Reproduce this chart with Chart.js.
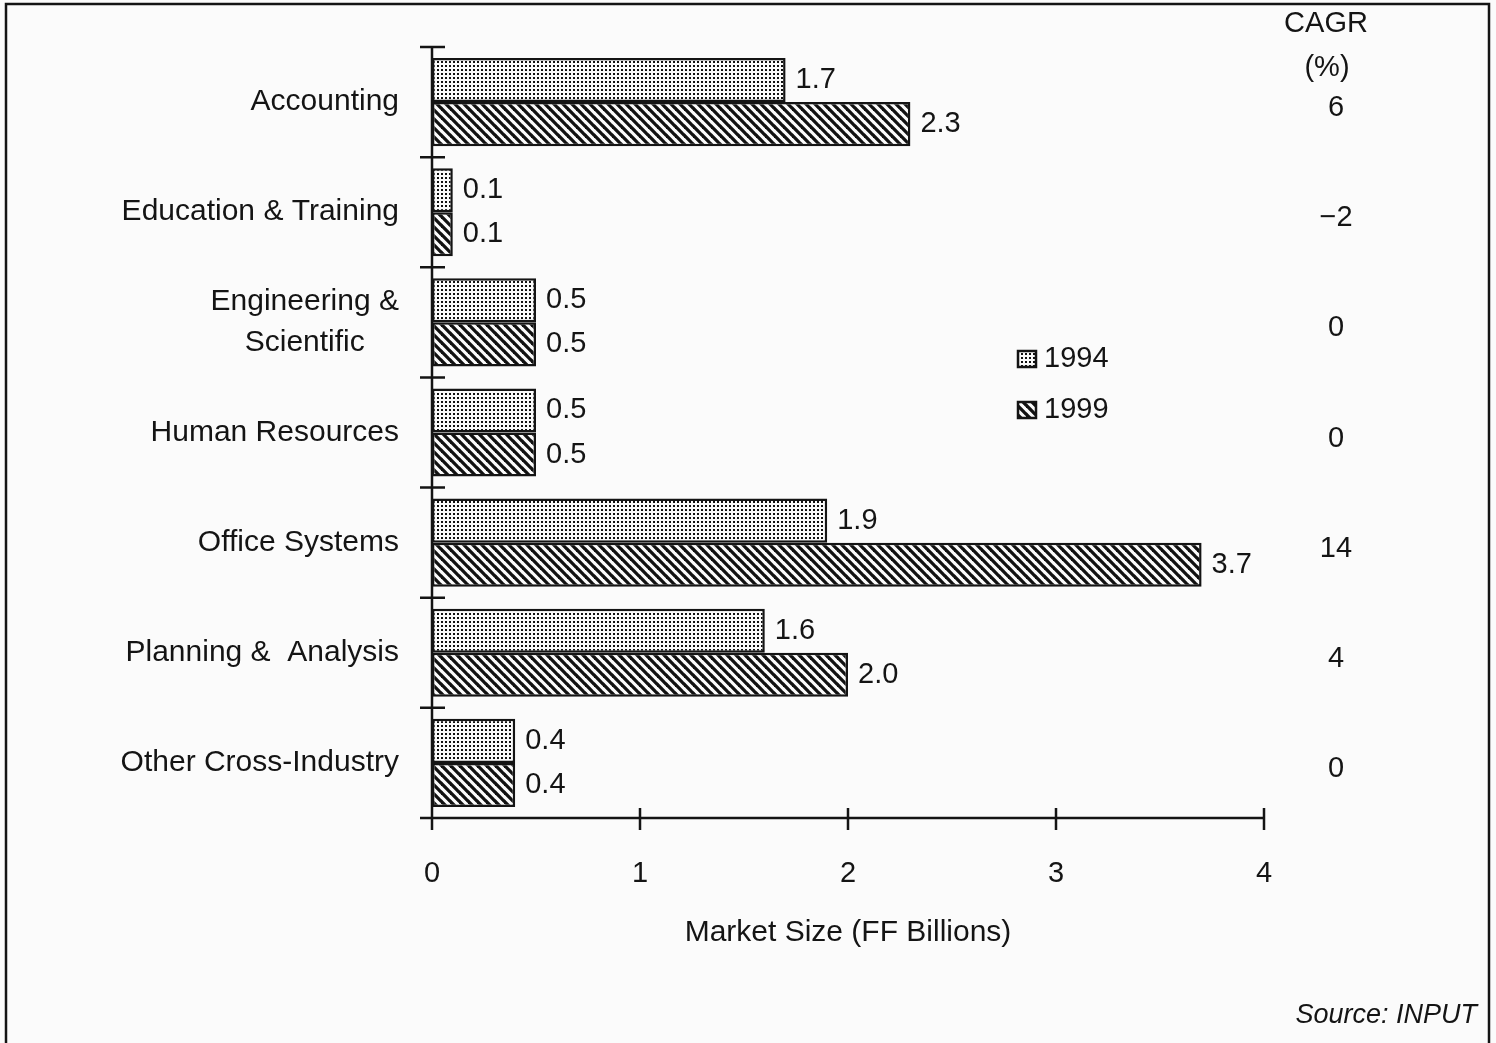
<!DOCTYPE html>
<html>
<head>
<meta charset="utf-8">
<script src="https://cdn.jsdelivr.net/npm/chart.js@4.4.1/dist/chart.umd.min.js"></script>
<style>
  html, body { margin: 0; padding: 0; background: #fbfbfb; }
  #wrap { width: 1496px; height: 1043px; }
</style>
</head>
<body>
<div id="wrap"><canvas id="marketChart" width="1496" height="1043"></canvas></div>
<script>
// ─── Data ──────────────────────────────────────────────────────
const categories = [
    ['Accounting'],
    ['Education & Training'],
    ['Engineering &', 'Scientific'],
    ['Human Resources'],
    ['Office Systems'],
    ['Planning &  Analysis'],
    ['Other Cross-Industry']
];
const values1994  = [1.7, 0.1, 0.5, 0.5, 1.9, 1.6, 0.4];
const values1999  = [2.3, 0.1, 0.5, 0.5, 3.7, 2.0, 0.4];
const cagr        = ['6', '\u22122', '0', '0', '14', '4', '0'];
const xTicks      = [0, 1, 2, 3, 4];
const seriesNames = ['1994', '1999'];

const FONT = '"Liberation Sans", Arial, Helvetica, sans-serif';
const INK  = '#141414';
const BG   = '#fbfbfb';

// ─── Fill patterns ─────────────────────────────────────────────
function dotPattern(ctx) {
    const c = document.createElement('canvas');
    c.width = 4; c.height = 4;
    const p = c.getContext('2d');
    p.fillStyle = BG;
    p.fillRect(0, 0, 4, 4);
    p.fillStyle = '#111';
    p.fillRect(1, 1, 2, 2);
    return ctx.createPattern(c, 'repeat');
}

function hatchPattern(ctx) {
    const s = 9;
    const c = document.createElement('canvas');
    c.width = s; c.height = s;
    const p = c.getContext('2d');
    p.fillStyle = BG;
    p.fillRect(0, 0, s, s);
    p.strokeStyle = '#111';
    p.lineWidth = 3.3;
    [-s, 0, s].forEach(dx => {
        p.beginPath();
        p.moveTo(dx - 1, -1);
        p.lineTo(dx + s + 1, s + 1);
        p.stroke();
    });
    return ctx.createPattern(c, 'repeat');
}

const canvas = document.getElementById('marketChart');
const ctx    = canvas.getContext('2d');
const fill94 = dotPattern(ctx);
const fill99 = hatchPattern(ctx);

// ─── Decorations: axes, labels, legend, CAGR column, frame ─────
const decorPlugin = {
    id: 'decor',
    beforeDraw(chart) {
        const c = chart.ctx;
        c.save();
        c.fillStyle = BG;
        c.fillRect(0, 0, chart.width, chart.height);
        c.restore();
    },
    afterDatasetsDraw(chart) {
        const c    = chart.ctx;
        const xs   = chart.scales.x;
        const ys   = chart.scales.y;
        const area = chart.chartArea;
        const x0   = xs.getPixelForValue(0);

        c.save();
        c.strokeStyle = INK;
        c.fillStyle   = INK;
        c.lineWidth   = 2.5;

        // y axis + category boundary ticks
        c.beginPath();
        c.moveTo(x0, area.top);
        c.lineTo(x0, area.bottom);
        for (let i = 0; i <= categories.length; i++) {
            const y = ys.getPixelForValue(i - 0.5);
            c.moveTo(x0 - 12, y);
            c.lineTo(x0 + 13, y);
        }
        // x axis + value ticks
        const xEnd = xs.getPixelForValue(xTicks[xTicks.length - 1]);
        c.moveTo(x0 - 12, area.bottom);
        c.lineTo(xEnd + 1, area.bottom);
        xTicks.forEach(v => {
            const x = xs.getPixelForValue(v);
            c.moveTo(x, area.bottom - 10);
            c.lineTo(x, area.bottom + 12);
        });
        c.stroke();

        // x tick labels + title
        c.font = `29px ${FONT}`;
        c.textAlign = 'center';
        c.textBaseline = 'middle';
        xTicks.forEach(v => c.fillText(String(v), xs.getPixelForValue(v), area.bottom + 56));
        c.font = `30px ${FONT}`;
        c.fillText('Market Size (FF Billions)', xs.getPixelForValue(2), area.bottom + 115);

        // category labels (lines centred on each other, right edge near axis)
        c.font = `30px ${FONT}`;
        c.textAlign = 'center';
        categories.forEach((lines, i) => {
            const yc   = ys.getPixelForValue(i);
            const maxW = Math.max(...lines.map(l => c.measureText(l).width));
            lines.forEach((l, k) => {
                const y = yc + (k - (lines.length - 1) / 2) * 41;
                c.fillText(l, x0 - 33 - maxW / 2, y);
            });
        });

        // value labels at bar ends
        c.font = `29px ${FONT}`;
        c.textAlign = 'left';
        chart.data.datasets.forEach((ds, di) => {
            chart.getDatasetMeta(di).data.forEach((bar, i) => {
                c.fillText(ds.data[i].toFixed(1), bar.x + 10, bar.y);
            });
        });

        // CAGR column
        c.textAlign = 'center';
        c.font = `29px ${FONT}`;
        c.fillText('CAGR', 1326, 24);
        c.fillText('(%)', 1327, 68);
        cagr.forEach((v, i) => c.fillText(v, 1336, ys.getPixelForValue(i) + 6));

        // legend
        const fills = [fill94, fill99];
        c.font = `29px ${FONT}`;
        c.textAlign = 'left';
        seriesNames.forEach((name, i) => {
            const ly = 359 + i * 51;
            c.fillStyle = fills[i];
            c.fillRect(1018, ly - 8, 18, 16);
            c.lineWidth = 2.5;
            c.strokeRect(1018, ly - 8, 18, 16);
            c.fillStyle = INK;
            c.fillText(name, 1044, ly);
        });

        // source note
        c.font = `italic 27px ${FONT}`;
        c.textAlign = 'right';
        c.fillText('Source: INPUT', 1477, 1015);

        // frame
        c.lineWidth = 2.5;
        c.beginPath();
        c.moveTo(6, 1043);
        c.lineTo(6, 4);
        c.lineTo(1489, 4);
        c.lineTo(1489, 1043);
        c.stroke();
        c.restore();
    }
};

new Chart(ctx, {
    type: 'bar',
    data: {
        labels: categories,
        datasets: [
            { label: seriesNames[0], data: values1994, backgroundColor: fill94 },
            { label: seriesNames[1], data: values1999, backgroundColor: fill99 }
        ]
    },
    options: {
        indexAxis: 'y',
        responsive: false,
        devicePixelRatio: 1,
        animation: false,
        datasets: {
            bar: {
                barPercentage: 1.0,
                categoryPercentage: 0.8,
                borderColor: INK,
                borderWidth: 2.5,
                borderSkipped: false
            }
        },
        layout: { padding: { left: 432, right: 232, top: 47, bottom: 225 } },
        plugins: { legend: { display: false }, tooltip: { enabled: false } },
        scales: {
            x: { display: false, min: 0, max: 4 },
            y: { display: false }
        }
    },
    plugins: [decorPlugin]
});
</script>
</body>
</html>
